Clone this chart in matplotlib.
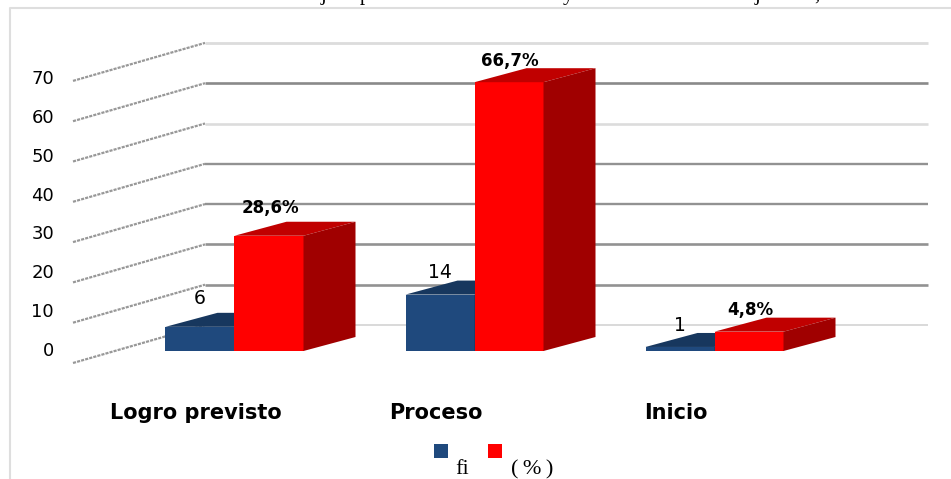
import matplotlib
matplotlib.use("Agg")
import matplotlib.pyplot as plt
from matplotlib.patches import Polygon, Rectangle

# Data
categories = ["Logro previsto", "Proceso", "Inicio"]
fi_values = [6, 14, 1]
pct_values = [28.6, 66.7, 4.8]
pct_labels = ["28,6%", "66,7%", "4,8%"]
y_ticks = [0, 10, 20, 30, 40, 50, 60, 70]

# Layout, in pixels of the 951x479 canvas
W, H = 951, 479
PX_PER_UNIT = 4.03
PX_PER_CAT = 240
BASE_Y = 351
FIRST_CENTER = 234.5
BAR_W = 69
DEPTH_X, DEPTH_Y = 52, 14
WALL_LEFT, WALL_RIGHT = 205, 928
FLOOR_LEFT = 73

grid_styles = [("#d0d0d0", 1.1), ("#929292", 1.9), ("#929292", 1.9), ("#929292", 1.7),
               ("#929292", 1.7), ("#dcdcdc", 1.9), ("#8a8a8a", 1.9), ("#dcdcdc", 2.0)]
fi_label_gap = [28, 22, 21]
pct_label_gap = [28, 21, 22]

fig = plt.figure(figsize=(W / 100, H / 100), dpi=100)
ax = fig.add_axes([0, 0, 1, 1])
ax.set_xlim(-FIRST_CENTER / PX_PER_CAT, (W - FIRST_CENTER) / PX_PER_CAT)
ax.set_ylim((BASE_Y - H) / PX_PER_UNIT, BASE_Y / PX_PER_UNIT)
ax.axis("off")


def dx(px):
    return px / PX_PER_CAT


def dy(px):
    return px / PX_PER_UNIT


def xpos(px):
    return (px - FIRST_CENTER) / PX_PER_CAT


def ypos(px):
    return (BASE_Y - px) / PX_PER_UNIT


# Chart frame
ax.plot([xpos(10), xpos(10), xpos(W)], [ypos(H), ypos(8), ypos(8)], color="#dedede", lw=1.5, zorder=1)

# Back wall and side wall gridlines
for value, (color, lw) in zip(y_ticks, grid_styles):
    back_y = value + dy(26)
    front_y = value - dy(12)
    ax.plot([xpos(WALL_LEFT), xpos(WALL_RIGHT)], [back_y, back_y], color=color, lw=lw, zorder=2,
            solid_capstyle="butt")
    ax.plot([xpos(FLOOR_LEFT), xpos(WALL_LEFT)], [front_y, back_y], color="#989898", lw=1.6,
            linestyle=(0, (1.4, 0.5)), zorder=2)


def draw_bar(center, width, height, front, top, side, z):
    left = center - width
    right = center
    ax.bar(left, height, width=width, align="edge", color=front, zorder=z)
    ddx, ddy = dx(DEPTH_X), dy(DEPTH_Y)
    ax.add_patch(Polygon([(left, height), (right, height), (right + ddx, height + ddy), (left + ddx, height + ddy)],
                         closed=True, facecolor=top, edgecolor="none", zorder=z))
    ax.add_patch(Polygon([(right, 0), (right + ddx, ddy), (right + ddx, height + ddy), (right, height)],
                         closed=True, facecolor=side, edgecolor="none", zorder=z))


# 3D bars, blue behind red
bar_w = dx(BAR_W)
for i, (fi, pct) in enumerate(zip(fi_values, pct_values)):
    draw_bar(i, bar_w, fi, "#1f497d", "#17375e", "#17375e", 3)
    draw_bar(i + bar_w, bar_w, pct, "#ff0000", "#c00000", "#a00000", 4)

    ax.text(i - dx(34.5), fi + dy(fi_label_gap[i]), str(fi), fontsize=13.5, ha="center", va="center",
            color="black", zorder=6)
    ax.text(i + dx(35.5), pct + dy(pct_label_gap[i]), pct_labels[i], fontsize=12, fontweight="bold",
            ha="center", va="center", color="black", zorder=6)
    ax.text(i - dx(38.5), ypos(413), categories[i], fontsize=15, fontweight="bold", ha="center",
            va="center", color="black")

# Value axis labels sit on their own tighter spacing
for value in y_ticks:
    ax.text(xpos(54), value * 0.964, str(value), fontsize=13, ha="right", va="center", color="black")

# Legend
ax.add_patch(Rectangle((xpos(434), ypos(458)), dx(14), dy(14), facecolor="#1f497d", edgecolor="none"))
ax.add_patch(Rectangle((xpos(488), ypos(458)), dx(14), dy(14), facecolor="#ff0000", edgecolor="none"))
ax.text(xpos(455), ypos(474.5), "fi", family="Liberation Serif", fontsize=16, ha="left", va="baseline")
ax.text(xpos(511), ypos(474.5), "(\u2009%\u2009)", family=["Liberation Serif", "DejaVu Sans"],
        fontsize=16, ha="left", va="baseline")

# Caption line running above the frame
for px, letter in [(323, "j"), (365, "p"), (568, "y"), (757, "j"), (817, ",")]:
    ax.text(xpos(px), ypos(0), letter, family="Liberation Serif", fontsize=15, ha="center", va="baseline",
            clip_on=True)

fig.savefig("out.png", dpi=100, facecolor="white")
